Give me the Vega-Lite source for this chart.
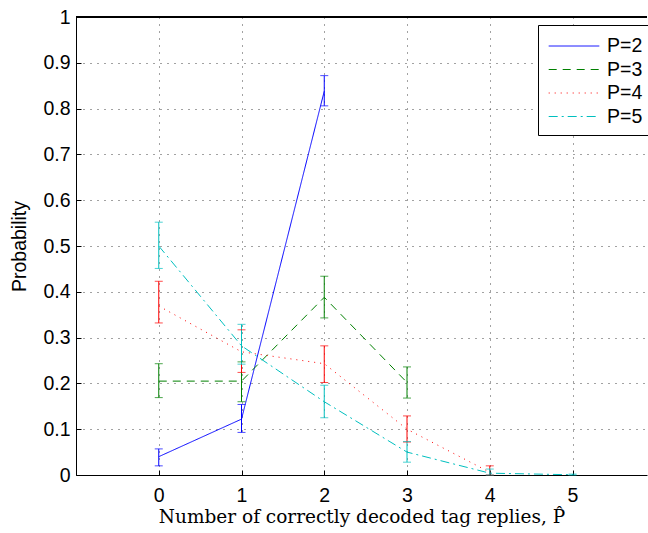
{
  "$schema": "https://vega.github.io/schema/vega-lite/v6.json",
  "width": 571,
  "height": 458,
  "autosize": {"type": "none"},
  "padding": {"left": 76, "top": 17, "right": 1, "bottom": 58},
  "background": "white",
  "config": {
    "view": {"stroke": null},
    "axis": {
      "domainColor": "black",
      "domainWidth": 1,
      "tickColor": "black",
      "tickSize": -5,
      "labelColor": "black",
      "labelFont": "Liberation Sans",
      "labelFontSize": 19.5,
      "titleColor": "black",
      "gridColor": "#444444",
      "gridDash": [1, 6],
      "gridWidth": 1
    },
    "legend": {
      "orient": "none",
      "legendX": 462,
      "legendY": 8,
      "strokeColor": "black",
      "fillColor": "white",
      "padding": 9,
      "symbolType": "M-2.2,0H2.2",
      "symbolSize": 529,
      "symbolOffset": 15,
      "symbolStrokeWidth": 1,
      "labelFont": "Liberation Sans",
      "labelFontSize": 19.5,
      "labelColor": "black",
      "rowPadding": 1.5,
      "labelOffset": 21
    }
  },
  "data": {
    "values": [
      {"series": "P=2", "x": 0, "y": 0.04, "lo": 0.02, "hi": 0.057},
      {"series": "P=2", "x": 1, "y": 0.122, "lo": 0.093, "hi": 0.154},
      {"series": "P=2", "x": 2, "y": 0.838, "lo": 0.806, "hi": 0.872},
      {"series": "P=3", "x": 0, "y": 0.205, "lo": 0.169, "hi": 0.243},
      {"series": "P=3", "x": 1, "y": 0.205, "lo": 0.16, "hi": 0.247},
      {"series": "P=3", "x": 2, "y": 0.388, "lo": 0.343, "hi": 0.434},
      {"series": "P=3", "x": 3, "y": 0.202, "lo": 0.168, "hi": 0.236},
      {"series": "P=4", "x": 0, "y": 0.369, "lo": 0.332, "hi": 0.423},
      {"series": "P=4", "x": 1, "y": 0.269, "lo": 0.224, "hi": 0.317},
      {"series": "P=4", "x": 2, "y": 0.243, "lo": 0.202, "hi": 0.282},
      {"series": "P=4", "x": 3, "y": 0.1, "lo": 0.072, "hi": 0.129},
      {"series": "P=4", "x": 4, "y": 0.006, "lo": 0, "hi": 0.02},
      {"series": "P=5", "x": 0, "y": 0.5, "lo": 0.451, "hi": 0.552},
      {"series": "P=5", "x": 1, "y": 0.282, "lo": 0.242, "hi": 0.329},
      {"series": "P=5", "x": 2, "y": 0.16, "lo": 0.125, "hi": 0.196},
      {"series": "P=5", "x": 3, "y": 0.05, "lo": 0.028, "hi": 0.073},
      {"series": "P=5", "x": 4, "y": 0.004, "lo": 0, "hi": 0.013},
      {"series": "P=5", "x": 5, "y": 0.0005, "lo": 0, "hi": 0.002}
    ]
  },
  "layer": [
    {
      "mark": {"type": "rule", "color": "black", "strokeWidth": 1},
      "encoding": {"y": {"datum": 1, "type": "quantitative", "scale": {"domain": [0, 1]}}}
    },
    {
      "mark": {"type": "line", "strokeWidth": 1, "clip": true},
      "encoding": {
        "x": {
          "field": "x", "type": "quantitative",
          "scale": {"domain": [-1, 5.9], "nice": false, "zero": false},
          "axis": {
            "values": [0, 1, 2, 3, 4, 5],
            "format": "d",
            "grid": true,
            "labelPadding": 16,
            "title": "Number of correctly decoded tag replies, P\u0302",
            "titleFont": "DejaVu Serif",
            "titleFontSize": 18.5,
            "titleFontWeight": "normal",
            "titlePadding": 3
          }
        },
        "y": {
          "field": "y", "type": "quantitative",
          "scale": {"domain": [0, 1], "nice": false},
          "axis": {
            "values": [0, 0.1, 0.2, 0.3, 0.4, 0.5, 0.6, 0.7, 0.8, 0.9, 1],
            "format": "~g",
            "grid": true,
            "labelPadding": 11,
            "title": "Probability",
            "titleFont": "Liberation Sans",
            "titleFontSize": 19.5,
            "titleFontWeight": "normal",
            "titlePadding": 13
          }
        },
        "color": {
          "field": "series", "type": "nominal",
          "scale": {"domain": ["P=2", "P=3", "P=4", "P=5"], "range": ["#0000ff", "#008000", "#ff0000", "#00bfbf"]},
          "legend": {"title": null}
        },
        "strokeDash": {
          "field": "series", "type": "nominal",
          "scale": {"domain": ["P=2", "P=3", "P=4", "P=5"], "range": [[1, 0], [8, 6], [1, 5], [9, 4, 2, 4]]},
          "legend": {"title": null}
        }
      }
    },
    {
      "mark": {"type": "rule", "strokeWidth": 1},
      "encoding": {
        "x": {"field": "x", "type": "quantitative"},
        "y": {"field": "lo", "type": "quantitative"},
        "y2": {"field": "hi"},
        "color": {"field": "series", "type": "nominal", "legend": null}
      }
    },
    {
      "mark": {"type": "tick", "orient": "horizontal", "size": 8, "thickness": 1},
      "encoding": {
        "x": {"field": "x", "type": "quantitative"},
        "y": {"field": "lo", "type": "quantitative"},
        "color": {"field": "series", "type": "nominal", "legend": null}
      }
    },
    {
      "mark": {"type": "tick", "orient": "horizontal", "size": 8, "thickness": 1},
      "encoding": {
        "x": {"field": "x", "type": "quantitative"},
        "y": {"field": "hi", "type": "quantitative"},
        "color": {"field": "series", "type": "nominal", "legend": null}
      }
    }
  ]
}
